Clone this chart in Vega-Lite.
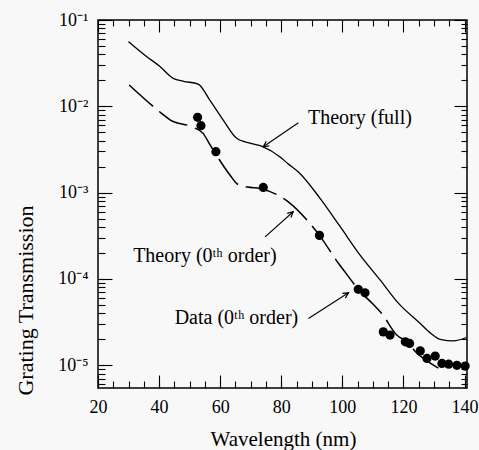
{
  "$schema": "https://vega.github.io/schema/vega-lite/v6.json",
  "width": 369,
  "height": 368,
  "autosize": {"type": "none"},
  "padding": {"left": 98, "top": 20, "right": 12, "bottom": 62},
  "background": "#f8f8f8",
  "config": {
    "view": {"stroke": "black", "strokeWidth": 1.5},
    "axis": {"grid": false, "domain": false, "zindex": 1, "tickColor": "#000000", "tickOpacity": 1, "tickWidth": 1.1, "labelColor": "black", "titleColor": "black", "labelFont": "Liberation Serif", "titleFont": "Liberation Serif", "titleFontWeight": "normal"}
  },
  "datasets": {
    "full": [
      {"wavelength": 30, "transmission": 0.0562},
      {"wavelength": 36, "transmission": 0.0376},
      {"wavelength": 40, "transmission": 0.0295},
      {"wavelength": 44.6, "transmission": 0.0211},
      {"wavelength": 48, "transmission": 0.0195},
      {"wavelength": 52.8, "transmission": 0.0181},
      {"wavelength": 56.6, "transmission": 0.0118},
      {"wavelength": 61, "transmission": 0.00693},
      {"wavelength": 65.4, "transmission": 0.00426},
      {"wavelength": 70, "transmission": 0.00372},
      {"wavelength": 74.1, "transmission": 0.0034},
      {"wavelength": 79.5, "transmission": 0.00261},
      {"wavelength": 82, "transmission": 0.00219},
      {"wavelength": 86.1, "transmission": 0.00167},
      {"wavelength": 92.7, "transmission": 0.000859},
      {"wavelength": 99.3, "transmission": 0.000403},
      {"wavelength": 105.8, "transmission": 0.000189},
      {"wavelength": 112.4, "transmission": 0.0000971},
      {"wavelength": 118.4, "transmission": 0.0000521},
      {"wavelength": 125.5, "transmission": 0.0000305},
      {"wavelength": 129, "transmission": 0.0000234},
      {"wavelength": 132, "transmission": 0.00002},
      {"wavelength": 136.4, "transmission": 0.0000192},
      {"wavelength": 140.6, "transmission": 0.000021}
    ],
    "zeroth": [
      {"wavelength": 30.2, "transmission": 0.01766},
      {"wavelength": 40.8, "transmission": 0.0083},
      {"wavelength": 43.7, "transmission": 0.00693},
      {"wavelength": 50.6, "transmission": 0.00581},
      {"wavelength": 54.4, "transmission": 0.00486},
      {"wavelength": 56.4, "transmission": 0.00372},
      {"wavelength": 63.2, "transmission": 0.0016},
      {"wavelength": 65.6, "transmission": 0.00126},
      {"wavelength": 69, "transmission": 0.00116},
      {"wavelength": 73, "transmission": 0.00112},
      {"wavelength": 79, "transmission": 0.00093},
      {"wavelength": 82.9, "transmission": 0.000752},
      {"wavelength": 88.9, "transmission": 0.00046},
      {"wavelength": 92.5, "transmission": 0.00032},
      {"wavelength": 98.7, "transmission": 0.000152},
      {"wavelength": 101.2, "transmission": 0.000116},
      {"wavelength": 105.2, "transmission": 0.0000759},
      {"wavelength": 110, "transmission": 0.0000512},
      {"wavelength": 112.9, "transmission": 0.0000398},
      {"wavelength": 117.8, "transmission": 0.0000224},
      {"wavelength": 122, "transmission": 0.0000178},
      {"wavelength": 123.8, "transmission": 0.0000145},
      {"wavelength": 127, "transmission": 0.0000117},
      {"wavelength": 133.1, "transmission": 0.00000863}
    ],
    "measured": [
      {"wavelength": 52.6, "transmission": 0.00745},
      {"wavelength": 53.7, "transmission": 0.00596},
      {"wavelength": 58.6, "transmission": 0.00298},
      {"wavelength": 74.1, "transmission": 0.00115},
      {"wavelength": 92.5, "transmission": 0.00032},
      {"wavelength": 105.2, "transmission": 0.0000759},
      {"wavelength": 107.4, "transmission": 0.0000692},
      {"wavelength": 113.4, "transmission": 0.0000244},
      {"wavelength": 115.6, "transmission": 0.0000224},
      {"wavelength": 120.6, "transmission": 0.0000187},
      {"wavelength": 122, "transmission": 0.0000179},
      {"wavelength": 125.5, "transmission": 0.0000147},
      {"wavelength": 127.7, "transmission": 0.000012},
      {"wavelength": 130.4, "transmission": 0.0000128},
      {"wavelength": 132.6, "transmission": 0.0000105},
      {"wavelength": 134.8, "transmission": 0.0000103},
      {"wavelength": 137.5, "transmission": 0.00001},
      {"wavelength": 140.2, "transmission": 0.0000098}
    ],
    "labels": [
      {"wavelength": 88.75, "transmission": 0.00624, "text": "Theory (full)"},
      {"wavelength": 31.5, "transmission": 0.000158, "text": "Theory (0ᵗʰ order)"},
      {"wavelength": 45.1, "transmission": 0.0000298, "text": "Data (0ᵗʰ order)"}
    ],
    "arrows": [
      {"label": "full", "tailWavelength": 85.6, "tailTransmission": 0.00646, "wavelength": 74.1, "transmission": 0.0034},
      {"label": "theory0", "tailWavelength": 74.7, "tailTransmission": 0.000308, "wavelength": 83.9, "transmission": 0.000601},
      {"label": "data0", "tailWavelength": 88.9, "tailTransmission": 0.0000349, "wavelength": 102, "transmission": 0.0000692}
    ]
  },
  "resolve": {"scale": {"x": "independent", "y": "independent"}, "axis": {"x": "independent", "y": "independent"}},
  "layer": [
    {
      "data": {"name": "full"},
      "mark": {"type": "line", "color": "black", "strokeWidth": 1.3, "interpolate": "monotone"},
      "encoding": {
        "x": {"field": "wavelength", "type": "quantitative",
          "scale": {"domain": [20, 140.8], "nice": false, "zero": false},
          "axis": {"orient": "bottom", "offset": -7, "values": [20, 25, 30, 35, 40, 45, 50, 55, 60, 65, 70, 75, 80, 85, 90, 95, 100, 105, 110, 115, 120, 125, 130, 135, 140], "ticks": true, "tickSize": 7, "tickColor": "#000000", "tickOpacity": 1, "tickWidth": 1.1, "labelExpr": "datum.value % 20 == 0 ? datum.label : ''", "labelFontSize": 18, "labelPadding": 10, "labelFlush": false, "labelOverlap": false, "labelBound": false,
            "title": "Wavelength (nm)", "titleFontSize": 21, "titleX": 185, "titleY": 64, "titleBaseline": "alphabetic", "titleAlign": "center"}},
        "y": {"field": "transmission", "type": "quantitative",
          "scale": {"type": "log", "domain": [0.00000546, 0.1], "nice": false},
          "axis": {"orient": "left", "offset": -7, "values": [0.000006, 0.000007, 0.000008, 0.000009, 0.00001, 0.00002, 0.00003, 0.00004, 0.00005, 0.00006, 0.00007, 0.00008, 0.00009, 0.0001, 0.0002, 0.0003, 0.0004, 0.0005, 0.0006, 0.0007, 0.0008, 0.0009, 0.001, 0.002, 0.003, 0.004, 0.005, 0.006, 0.007, 0.008, 0.009, 0.01, 0.02, 0.03, 0.04, 0.05, 0.06, 0.07, 0.08, 0.09, 0.1], "ticks": true, "tickSize": 7, "tickColor": "#000000", "tickOpacity": 1, "tickWidth": 1.1, "labelFontSize": 18, "labelPadding": 10, "labelOverlap": false, "labelFlush": false, "labelBound": false,
            "labelExpr": "abs(log(datum.value)/LN10 - round(log(datum.value)/LN10)) > 0.01 ? '' : '10' + (round(log(datum.value)/LN10) == -1 ? '⁻¹' : round(log(datum.value)/LN10) == -2 ? '⁻²' : round(log(datum.value)/LN10) == -3 ? '⁻³' : round(log(datum.value)/LN10) == -4 ? '⁻⁴' : '⁻⁵')",
            "title": "Grating Transmission", "titleFontSize": 22, "titleAngle": -90, "titleX": -73, "titleY": 280, "titleBaseline": "alphabetic", "titleAlign": "center"}}
      }
    },
    {
      "data": {"name": "zeroth"},
      "mark": {"type": "line", "color": "black", "strokeWidth": 1.5, "strokeDash": [32, 8], "interpolate": "monotone"},
      "encoding": {
        "x": {"field": "wavelength", "type": "quantitative",
          "scale": {"domain": [20, 140.8], "nice": false, "zero": false},
          "axis": {"orient": "bottom", "offset": -13, "values": [20, 40, 60, 80, 100, 120, 140], "labels": false, "ticks": true, "tickSize": 13, "tickColor": "#000000", "tickOpacity": 1, "tickWidth": 1.1, "title": null}},
        "y": {"field": "transmission", "type": "quantitative",
          "scale": {"type": "log", "domain": [0.00000546, 0.1], "nice": false},
          "axis": {"orient": "left", "offset": -14, "values": [0.00001, 0.0001, 0.001, 0.01, 0.1], "labels": false, "ticks": true, "tickSize": 14, "tickColor": "#000000", "tickOpacity": 1, "tickWidth": 1.1, "title": null}}
      }
    },
    {
      "data": {"name": "measured"},
      "mark": {"type": "point", "filled": true, "color": "black", "opacity": 1, "size": 85},
      "encoding": {
        "x": {"field": "wavelength", "type": "quantitative",
          "scale": {"domain": [20, 140.8], "nice": false, "zero": false},
          "axis": {"orient": "top", "offset": -12, "values": [20, 40, 60, 80, 100, 120, 140], "labels": false, "ticks": true, "tickSize": 12, "tickColor": "#000000", "tickOpacity": 1, "tickWidth": 1.1, "title": null}},
        "y": {"field": "transmission", "type": "quantitative",
          "scale": {"type": "log", "domain": [0.00000546, 0.1], "nice": false},
          "axis": {"orient": "right", "offset": -13, "values": [0.00001, 0.0001, 0.001, 0.01, 0.1], "labels": false, "ticks": true, "tickSize": 13, "tickColor": "#000000", "tickOpacity": 1, "tickWidth": 1.1, "title": null}}
      }
    },
    {
      "data": {"name": "labels"},
      "mark": {"type": "text", "font": "Liberation Serif", "fontSize": 20, "align": "left", "baseline": "alphabetic", "color": "black"},
      "encoding": {
        "text": {"field": "text"},
        "x": {"field": "wavelength", "type": "quantitative",
          "scale": {"domain": [20, 140.8], "nice": false, "zero": false},
          "axis": {"orient": "top", "offset": -6, "values": [25, 30, 35, 45, 50, 55, 65, 70, 75, 85, 90, 95, 105, 110, 115, 125, 130, 135], "labels": false, "ticks": true, "tickSize": 6, "tickColor": "#000000", "tickOpacity": 1, "tickWidth": 1.1, "title": null}},
        "y": {"field": "transmission", "type": "quantitative",
          "scale": {"type": "log", "domain": [0.00000546, 0.1], "nice": false},
          "axis": {"orient": "right", "offset": -6, "values": [0.000006, 0.000007, 0.000008, 0.000009, 0.00002, 0.00003, 0.00004, 0.00005, 0.00006, 0.00007, 0.00008, 0.00009, 0.0002, 0.0003, 0.0004, 0.0005, 0.0006, 0.0007, 0.0008, 0.0009, 0.002, 0.003, 0.004, 0.005, 0.006, 0.007, 0.008, 0.009, 0.02, 0.03, 0.04, 0.05, 0.06, 0.07, 0.08, 0.09], "labels": false, "ticks": true, "tickSize": 6, "tickColor": "#000000", "tickOpacity": 1, "tickWidth": 1.1, "title": null}}
      }
    },
    {
      "data": {"name": "arrows"},
      "mark": {"type": "rule", "color": "black", "strokeWidth": 1.1},
      "encoding": {
        "x": {"field": "tailWavelength", "type": "quantitative",
          "scale": {"domain": [20, 140.8], "nice": false, "zero": false}, "axis": null},
        "y": {"field": "tailTransmission", "type": "quantitative",
          "scale": {"type": "log", "domain": [0.00000546, 0.1], "nice": false}, "axis": null},
        "x2": {"field": "wavelength"},
        "y2": {"field": "transmission"}
      }
    },
    {
      "data": {"name": "arrows"},
      "transform": [{"filter": "datum.label == 'full'"}],
      "mark": {"type": "point", "shape": "M-0.55,1.1L0,0L0.55,1.1", "filled": false, "color": "black", "strokeWidth": 1.2, "opacity": 1, "size": 100, "angle": 235.5},
      "encoding": {
        "x": {"field": "wavelength", "type": "quantitative", "scale": {"domain": [20, 140.8], "nice": false, "zero": false}, "axis": null},
        "y": {"field": "transmission", "type": "quantitative", "scale": {"type": "log", "domain": [0.00000546, 0.1], "nice": false}, "axis": null}
      }
    },
    {
      "data": {"name": "arrows"},
      "transform": [{"filter": "datum.label == 'theory0'"}],
      "mark": {"type": "point", "shape": "M-0.55,1.1L0,0L0.55,1.1", "filled": false, "color": "black", "strokeWidth": 1.2, "opacity": 1, "size": 100, "angle": 48.5},
      "encoding": {
        "x": {"field": "wavelength", "type": "quantitative", "scale": {"domain": [20, 140.8], "nice": false, "zero": false}, "axis": null},
        "y": {"field": "transmission", "type": "quantitative", "scale": {"type": "log", "domain": [0.00000546, 0.1], "nice": false}, "axis": null}
      }
    },
    {
      "data": {"name": "arrows"},
      "transform": [{"filter": "datum.label == 'data0'"}],
      "mark": {"type": "point", "shape": "M-0.55,1.1L0,0L0.55,1.1", "filled": false, "color": "black", "strokeWidth": 1.2, "opacity": 1, "size": 100, "angle": 57.4},
      "encoding": {
        "x": {"field": "wavelength", "type": "quantitative", "scale": {"domain": [20, 140.8], "nice": false, "zero": false}, "axis": null},
        "y": {"field": "transmission", "type": "quantitative", "scale": {"type": "log", "domain": [0.00000546, 0.1], "nice": false}, "axis": null}
      }
    }
  ]
}
